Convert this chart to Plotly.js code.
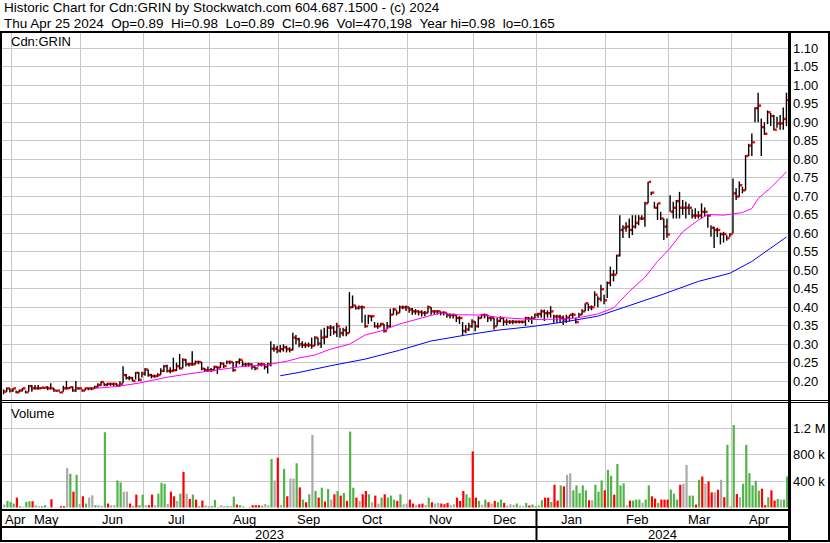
<!DOCTYPE html>
<html><head><meta charset="utf-8">
<script src="https://cdn.plot.ly/plotly-3.0.1.min.js"></script>
<style>html,body{margin:0;padding:0;background:#fff;overflow:hidden}#chart{width:830px;height:543px}
#chart .cartesianlayer .plot path{shape-rendering:crispEdges}
</style>
</head><body><div id="chart"></div>
<script>
// ---- data ----
const monthNames = ['Apr','May','Jun','Jul','Aug','Sep','Oct','Nov','Dec','Jan','Feb','Mar','Apr'];
const monthDays  = [3,22,20,21,22,19,22,21,20,22,20,20,18];
const yearNames  = ['2023','2024'];
const yearMonthCount = [9,4];

const close = [
0.172,0.181,0.175,
0.181,0.170,0.175,0.181,0.170,0.187,0.181,0.181,0.181,0.183,0.183,0.181,0.181,0.175,0.175,0.170,0.181,0.181,0.184,0.175,0.181,0.181,
0.175,0.181,0.181,0.181,0.185,0.190,0.198,0.190,0.193,0.193,0.193,0.188,0.193,0.217,0.209,0.209,0.201,0.223,0.204,0.221,
0.232,0.217,0.214,0.214,0.217,0.228,0.241,0.228,0.228,0.230,0.241,0.235,0.258,0.246,0.246,0.246,0.252,0.252,0.234,0.230,0.230,
0.230,0.239,0.237,0.248,0.241,0.252,0.252,0.230,0.252,0.258,0.246,0.246,0.246,0.239,0.235,0.246,0.246,0.239,0.246,0.288,0.288,0.283,
0.287,0.292,0.287,0.285,0.318,0.314,0.300,0.298,0.298,0.298,0.296,0.318,0.302,0.318,0.320,0.345,0.345,0.333,0.349,
0.330,0.338,0.330,0.400,0.405,0.398,0.400,0.400,0.349,0.376,0.376,0.349,0.349,0.355,0.336,0.349,0.380,0.394,0.385,0.400,0.400,0.400,
0.394,0.389,0.389,0.387,0.385,0.385,0.400,0.389,0.389,0.389,0.385,0.385,0.379,0.379,0.379,0.371,0.371,0.336,0.340,0.349,0.361,
0.349,0.371,0.379,0.379,0.371,0.371,0.349,0.363,0.371,0.361,0.361,0.361,0.361,0.361,0.361,0.361,0.371,0.369,0.370,0.380,
0.382,0.389,0.384,0.384,0.389,0.375,0.375,0.372,0.367,0.372,0.380,0.380,0.360,0.380,0.389,0.411,0.400,0.400,0.434,0.423,0.449,0.419,
0.466,0.488,0.488,0.540,0.609,0.615,0.618,0.609,0.618,0.628,0.640,0.640,0.681,0.739,0.710,0.669,0.681,0.640,0.618,0.597,
0.658,0.669,0.687,0.669,0.669,0.669,0.669,0.648,0.648,0.648,0.658,0.658,0.648,0.615,0.609,0.609,0.598,0.598,0.587,0.598,
0.708,0.699,0.730,0.716,0.809,0.837,0.846,0.938,0.945,0.887,0.869,0.927,0.917,0.880,0.897,0.897,0.909,0.960];

const high = [
0.178,0.183,0.181,
0.182,0.175,0.178,0.182,0.175,0.190,0.190,0.190,0.190,0.184,0.184,0.187,0.195,0.182,0.176,0.172,0.188,0.201,0.185,0.186,0.201,0.183,
0.178,0.183,0.183,0.183,0.188,0.195,0.200,0.196,0.196,0.196,0.196,0.195,0.200,0.241,0.220,0.214,0.212,0.225,0.225,0.226,
0.236,0.232,0.220,0.218,0.222,0.235,0.244,0.245,0.238,0.264,0.250,0.274,0.262,0.260,0.250,0.281,0.256,0.256,0.252,0.236,0.240,
0.236,0.242,0.240,0.252,0.250,0.256,0.256,0.252,0.255,0.262,0.256,0.250,0.250,0.248,0.240,0.250,0.250,0.248,0.250,0.308,0.300,0.296,
0.298,0.300,0.296,0.292,0.331,0.325,0.318,0.308,0.305,0.305,0.318,0.322,0.318,0.340,0.345,0.349,0.352,0.349,0.358,
0.345,0.345,0.349,0.441,0.432,0.405,0.405,0.405,0.380,0.380,0.378,0.360,0.358,0.358,0.355,0.360,0.396,0.398,0.392,0.405,0.405,0.405,
0.400,0.398,0.395,0.392,0.392,0.390,0.405,0.400,0.392,0.392,0.389,0.389,0.385,0.383,0.383,0.379,0.376,0.360,0.352,0.358,0.368,
0.362,0.376,0.382,0.383,0.380,0.376,0.372,0.372,0.376,0.372,0.368,0.365,0.366,0.364,0.364,0.364,0.374,0.374,0.376,0.383,
0.385,0.394,0.394,0.392,0.403,0.380,0.380,0.380,0.378,0.380,0.380,0.385,0.372,0.385,0.395,0.411,0.410,0.405,0.443,0.430,0.461,0.434,
0.470,0.510,0.501,0.542,0.649,0.622,0.630,0.640,0.649,0.649,0.649,0.649,0.685,0.739,0.712,0.685,0.681,0.658,0.640,0.640,
0.703,0.685,0.690,0.712,0.690,0.685,0.680,0.665,0.668,0.660,0.681,0.670,0.650,0.622,0.618,0.615,0.602,0.604,0.595,0.600,
0.748,0.722,0.740,0.726,0.811,0.842,0.870,0.941,0.980,0.910,0.900,0.932,0.925,0.920,0.915,0.920,0.940,0.980];

const low = [
0.165,0.172,0.170,
0.172,0.168,0.170,0.173,0.168,0.172,0.172,0.178,0.178,0.180,0.180,0.176,0.178,0.172,0.172,0.168,0.172,0.178,0.180,0.172,0.172,0.178,
0.172,0.175,0.176,0.176,0.180,0.183,0.188,0.187,0.188,0.188,0.186,0.185,0.186,0.195,0.205,0.203,0.200,0.205,0.200,0.210,
0.215,0.212,0.208,0.210,0.212,0.218,0.225,0.224,0.222,0.226,0.228,0.232,0.235,0.240,0.240,0.242,0.245,0.246,0.230,0.226,0.226,
0.226,0.230,0.220,0.236,0.236,0.246,0.246,0.226,0.238,0.246,0.240,0.240,0.240,0.232,0.230,0.240,0.240,0.232,0.221,0.240,0.280,0.276,
0.278,0.280,0.278,0.278,0.284,0.300,0.292,0.290,0.290,0.292,0.288,0.296,0.296,0.290,0.300,0.318,0.322,0.326,0.320,
0.318,0.322,0.322,0.331,0.398,0.394,0.394,0.358,0.345,0.355,0.362,0.345,0.342,0.349,0.332,0.340,0.345,0.380,0.378,0.385,0.395,0.390,
0.385,0.380,0.380,0.378,0.375,0.376,0.385,0.380,0.382,0.380,0.378,0.378,0.372,0.370,0.370,0.360,0.355,0.325,0.330,0.336,0.345,
0.335,0.345,0.370,0.370,0.360,0.362,0.340,0.350,0.360,0.350,0.352,0.355,0.354,0.356,0.356,0.356,0.350,0.360,0.355,0.370,
0.372,0.372,0.363,0.372,0.372,0.358,0.358,0.358,0.352,0.358,0.362,0.370,0.356,0.372,0.380,0.389,0.390,0.392,0.403,0.400,0.416,0.408,
0.425,0.457,0.470,0.490,0.537,0.587,0.604,0.587,0.595,0.613,0.622,0.636,0.618,0.681,0.703,0.667,0.636,0.636,0.582,0.588,
0.658,0.640,0.640,0.640,0.650,0.640,0.650,0.640,0.639,0.640,0.640,0.645,0.615,0.591,0.560,0.590,0.570,0.575,0.580,0.590,
0.600,0.690,0.699,0.708,0.716,0.809,0.809,0.900,0.900,0.809,0.866,0.895,0.890,0.878,0.885,0.880,0.880,0.890];

const volume = [
45000,100000,85000,60000,150000,20000,10000,85000,95000,95000,35000,20000,20000,35000,5000,125000,5000,5000,20000,20000,600000,
510000,240000,495000,55000,170000,60000,150000,185000,35000,35000,25000,
1140000,60000,35000,35000,410000,380000,240000,240000,60000,20000,195000,35000,195000,35000,35000,195000,35000,210000,375000,360000,55000,240000,170000,100000,210000,
540000,210000,130000,195000,120000,20000,105000,35000,20000,25000,115000,5000,35000,20000,20000,20000,165000,45000,35000,20000,5000,5000,35000,35000,35000,25000,55000,35000,
735000,410000,755000,
40000,585000,170000,440000,440000,670000,305000,120000,80000,200000,1100000,250000,150000,300000,90000,280000,120000,200000,250000,
180000,220000,100000,1150000,300000,150000,100000,200000,250000,200000,80000,180000,60000,150000,200000,150000,180000,120000,100000,200000,50000,60000,
120000,60000,40000,50000,60000,40000,150000,80000,60000,70000,60000,50000,70000,40000,50000,150000,100000,250000,200000,150000,850000,
150000,100000,40000,120000,80000,60000,100000,80000,120000,70000,30000,50000,40000,60000,30000,20000,70000,30000,45000,20000,
35000,110000,150000,150000,85000,345000,105000,335000,320000,495000,520000,260000,335000,220000,335000,260000,110000,110000,345000,240000,410000,260000,
570000,480000,195000,660000,335000,365000,35000,105000,105000,120000,120000,75000,120000,335000,170000,135000,70000,120000,120000,120000,
270000,210000,120000,345000,360000,645000,180000,180000,45000,420000,470000,360000,395000,230000,230000,270000,420000,155000,950000,20000,
1250000,205000,155000,360000,950000,520000,335000,405000,255000,285000,35000,155000,260000,105000,130000,120000,120000,470198];

// G = up day, R = down day, N = unchanged (volume bar colour)
const volDir = (
'NGGGRGNGGRNNGGNRNNRRN' + 'GRGNRGNNGNN' + 'GRNNGGNNRGRGGNRRNGGGNRRNG' +
'RNRGRGRNNGGRNNGNGRGNNRRRRGNN' + 'GNR' +
'NGRNNGRGRGNGRGRGNRG' + 'RGRGGRNRRGNRNGRGGGRGNN' + 'RRNRRNGRNNRRRNNRRRGGR' +
'RGNGRNRGGRNNNGNNGRGG' + 'NGRRGRRGRNNGGGGGRNGGGR' + 'GGRGGGNRGGGNGGRRGRRR' +
'GGGRNNGGRGRNRRNRNRGN' + 'GRNGGGGGGRRGRRGNGG').split('');

// moving averages (bar index, value)
const maFastX = [29,36,43,52,58,67,75,84,90,94,99,104,110,115,120,126,131,136,139,143,147,153,157,163,168,178,183,189,194,199,204,208,212,216,221,224,229,235,238,240,244,249];
const maFastY = [0.181,0.186,0.195,0.211,0.219,0.230,0.239,0.245,0.254,0.263,0.271,0.287,0.300,0.325,0.336,0.355,0.367,0.379,0.385,0.380,0.379,0.379,0.373,0.370,0.367,0.368,0.372,0.382,0.398,0.443,0.481,0.524,0.560,0.604,0.636,0.651,0.649,0.656,0.667,0.694,0.723,0.766];
const maSlowX = [88,94,104,115,126,136,147,157,168,178,189,199,210,221,231,238,244,249];
const maSlowY = [0.215,0.224,0.242,0.260,0.284,0.309,0.325,0.338,0.348,0.360,0.376,0.404,0.436,0.470,0.492,0.524,0.560,0.590];

const priceTicks = [0.20,0.25,0.30,0.35,0.40,0.45,0.50,0.55,0.60,0.65,0.70,0.75,0.80,0.85,0.90,0.95,1.00,1.05,1.10];
const volTicks = [400000,800000,1200000];
const volTickText = ['400 k','800 k','1.2 M'];

const header1 = 'Historic Chart for Cdn:GRIN by Stockwatch.com 604.687.1500 - (c) 2024';
const header2 = 'Thu Apr 25 2024  Op=0.89  Hi=0.98  Lo=0.89  Cl=0.96  Vol=470,198  Year hi=0.98  lo=0.165';
const symbolLabel = 'Cdn:GRIN';
const volumeLabel = 'Volume';

// ---- layout helpers (pixel -> paper) ----
const W = 830, H = 543, PL = 2, PR = 788, PT = 33, PB = 509;
const px = x => (x - PL) / (PR - PL);
const py = y => (PB - y) / (PB - PT);
const FONT = 'Liberation Sans, Arial, sans-serif';
const keepSpaces = s => s.replace(/  /g, ' \u00a0');

const xs = close.map((_, i) => i);
const monthStart = [];
monthDays.reduce((acc, d) => { monthStart.push(acc); return acc + d; }, 0);
const gridX = monthStart.slice(1).map(s => s - 0.5);
const lastX = close.length - 0.5;

const TICK_H = 0.0066;
const colorMap = {G: '#52b448', R: '#ff0000', N: '#aaaaaa'};

const traces = [
  {type: 'ohlc', x: xs, open: close, high: high, low: low, close: close,
   xaxis: 'x', yaxis: 'y', tickwidth: 0,
   increasing: {line: {color: '#000000', width: 1.4}},
   decreasing: {line: {color: '#000000', width: 1.4}},
   hoverinfo: 'skip', showlegend: false},
  {type: 'bar', x: xs, y: close.map(() => TICK_H), base: close.map(c => c - TICK_H / 2),
   width: 0.78, offset: 0.18, marker: {color: '#ff0000', line: {width: 0}},
   xaxis: 'x', yaxis: 'y', hoverinfo: 'skip', showlegend: false},
  {type: 'scatter', mode: 'lines', x: maFastX, y: maFastY, line: {color: '#ff00ff', width: 1},
   xaxis: 'x', yaxis: 'y', hoverinfo: 'skip', showlegend: false},
  {type: 'scatter', mode: 'lines', x: maSlowX, y: maSlowY, line: {color: '#0000ff', width: 1},
   xaxis: 'x', yaxis: 'y', hoverinfo: 'skip', showlegend: false},
  {type: 'bar', x: xs, y: volume, width: 0.7, offset: -0.12,
   marker: {color: volDir.map(d => colorMap[d]), line: {width: 0}},
   xaxis: 'x', yaxis: 'y2', hoverinfo: 'skip', showlegend: false}
];

const annotations = [];
const ann = (text, x, y, opts) => annotations.push(Object.assign({
  text: text, x: x, y: y, xref: 'paper', yref: 'paper', showarrow: false,
  xanchor: 'left', yanchor: 'middle', font: {family: FONT, size: 13, color: '#000'}}, opts || {}));

ann(keepSpaces(header1), px(2), py(8), {font: {family: FONT, size: 13.5, color: '#000'}});
ann(keepSpaces(header2), px(2), py(23.5), {font: {family: FONT, size: 13.5, color: '#000'}});
ann(symbolLabel, px(9), py(41.5));
ann(volumeLabel, px(9), py(413));

monthNames.forEach((m, k) => {
  if (k === 0) {
    ann(m, monthStart[0] - 0.5, py(519), {xref: 'x', xanchor: 'left', xshift: 1});
  } else {
    ann(m, monthStart[k] + (monthDays[k] - 1) / 2, py(519), {xref: 'x', xanchor: 'center'});
  }
});
let mIdx = 0;
yearNames.forEach((yName, k) => {
  const startM = mIdx, endM = mIdx + yearMonthCount[k];
  const x0 = monthStart[startM] - 0.5;
  const x1 = endM < monthStart.length ? monthStart[endM] - 0.5 : lastX;
  ann(yName, (x0 + x1) / 2, py(534), {xref: 'x', xanchor: 'center'});
  mIdx = endM;
});

const shapes = [];
const seg = (x0, y0, x1, y1, w) => shapes.push({type: 'line', xref: 'paper', yref: 'paper',
  x0: px(x0), y0: py(y0), x1: px(x1), y1: py(y1), line: {color: '#000', width: w}, layer: 'above'});
seg(0, 32, 830, 32, 2);
seg(1, 31, 1, 542, 2);
seg(789.5, 31, 789.5, 542, 3);
seg(829, 31, 829, 542, 2);
seg(0, 400.5, 830, 400.5, 1);
seg(0, 402.5, 830, 402.5, 1);
seg(0, 510, 790, 510, 2);
seg(0, 527, 790, 527, 2);
seg(0, 541, 830, 541, 2);
shapes.push({type: 'line', xref: 'x', yref: 'paper', x0: monthStart[9] - 0.5, x1: monthStart[9] - 0.5,
  y0: py(510), y1: py(541), line: {color: '#000', width: 2}, layer: 'above'});

const gridColor = '#c8c8c8';
const layout = {
  width: W, height: H,
  margin: {l: PL, r: W - PR, t: PT, b: H - PB, pad: 0},
  paper_bgcolor: '#ffffff', plot_bgcolor: '#ffffff',
  showlegend: false, barmode: 'overlay', hovermode: false,
  font: {family: FONT, size: 13, color: '#000'},
  xaxis: {range: [-0.5, lastX], anchor: 'y2', tickmode: 'array', tickvals: gridX,
          showticklabels: false, ticks: '', showgrid: true, gridcolor: gridColor, gridwidth: 1,
          zeroline: false, showline: false, rangeslider: {visible: false}, fixedrange: true},
  yaxis: {domain: [py(400), 1], anchor: 'x', side: 'right',
          range: [0.20 - (400 - 381.3) / 370, 0.20 + (381.3 - 33) / 370],
          tickmode: 'array', tickvals: priceTicks, ticktext: priceTicks.map(v => v.toFixed(2)),
          ticks: '', ticklabelstandoff: 4, showgrid: true, gridcolor: gridColor, gridwidth: 1,
          zeroline: false, showline: false, tickfont: {family: FONT, size: 13, color: '#000'}, fixedrange: true},
  yaxis2: {domain: [0, py(402)], anchor: 'x', side: 'right',
           range: [-(509 - 507.5) / 26.4 * 400000, (507.5 - 402) / 26.4 * 400000],
           tickmode: 'array', tickvals: volTicks, ticktext: volTickText,
           ticks: '', ticklabelstandoff: 4, showgrid: true, gridcolor: gridColor, gridwidth: 1,
           zeroline: false, showline: false, tickfont: {family: FONT, size: 13, color: '#000'}, fixedrange: true},
  annotations: annotations,
  shapes: shapes
};

Plotly.newPlot('chart', traces, layout, {staticPlot: true, displayModeBar: false, responsive: false});
</script>
</body></html>
